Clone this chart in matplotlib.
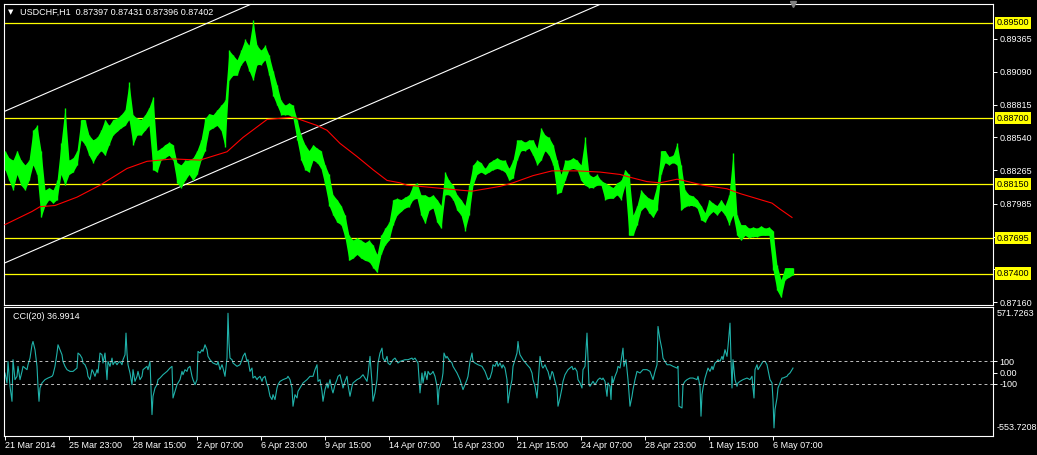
import numpy as np
import matplotlib
matplotlib.use("Agg")
import matplotlib.pyplot as plt
from matplotlib.transforms import blended_transform_factory

plt.rcParams['font.family'] = ['Liberation Sans', 'DejaVu Sans']

# ---------------- data ----------------
symbol_title = "USDCHF,H1  0.87397 0.87431 0.87396 0.87402"
bar_step = 4  # one sample every 4 hourly bars

high = [0.8843, 0.8837, 0.8835, 0.8843, 0.8835, 0.8831, 0.8835, 0.8860, 0.8864, 0.8843,
        0.8810, 0.8812, 0.8810, 0.8818, 0.8849, 0.8879, 0.8835, 0.8837, 0.8843, 0.8869,
        0.8869, 0.8856, 0.8852, 0.8854, 0.8860, 0.8869, 0.8864, 0.8869, 0.8870, 0.8873,
        0.8877, 0.8900, 0.8873, 0.8870, 0.8869, 0.8873, 0.8879, 0.8888, 0.8843, 0.8845,
        0.8848, 0.8850, 0.8848, 0.8833, 0.8831, 0.8835, 0.8835, 0.8837, 0.8843, 0.8852,
        0.8870, 0.8874, 0.8873, 0.8877, 0.8881, 0.8885, 0.8927, 0.8923, 0.8919, 0.8927,
        0.8936, 0.8931, 0.8952, 0.8931, 0.8927, 0.8931, 0.8923, 0.8910, 0.8898, 0.8885,
        0.8881, 0.8883, 0.8881, 0.8869, 0.8856, 0.8848, 0.8843, 0.8848, 0.8845, 0.8843,
        0.8831, 0.8823, 0.8806, 0.8802, 0.8797, 0.8789, 0.8772, 0.8768, 0.8770, 0.8768,
        0.8766, 0.8768, 0.8764, 0.8756, 0.8772, 0.8778, 0.8783, 0.8802, 0.8803, 0.8802,
        0.8804, 0.8806, 0.8814, 0.8816, 0.8806, 0.8806, 0.8804, 0.8806, 0.8802, 0.8797,
        0.8825, 0.8818, 0.8814, 0.8806, 0.8802, 0.8797, 0.8814, 0.8831, 0.8835, 0.8833,
        0.8828, 0.8833, 0.8835, 0.8837, 0.8835, 0.8835, 0.8828, 0.8835, 0.8852, 0.8852,
        0.8850, 0.8852, 0.8852, 0.8845, 0.8862, 0.8856, 0.8854, 0.8848, 0.8835, 0.8823,
        0.8835, 0.8835, 0.8837, 0.8835, 0.8831, 0.8854, 0.8823, 0.8821, 0.8823, 0.8818,
        0.8816, 0.8814, 0.8812, 0.8816, 0.8818, 0.8827, 0.8823, 0.8789, 0.8797, 0.8810,
        0.8806, 0.8803, 0.8802, 0.8814, 0.8843, 0.8843, 0.8838, 0.8839, 0.8849, 0.8831,
        0.8810, 0.8806, 0.8805, 0.8802, 0.8797, 0.8791, 0.8802, 0.8799, 0.8797, 0.8802,
        0.8797, 0.8806, 0.8841, 0.8789, 0.8781, 0.8781, 0.8778, 0.8779, 0.8778, 0.8780,
        0.8778, 0.8779, 0.8776, 0.8747, 0.8735, 0.8745, 0.8745, 0.8745]

low = [0.8827, 0.8818, 0.8810, 0.8823, 0.8814, 0.8810, 0.8818, 0.8831, 0.8823, 0.8787,
       0.8797, 0.8802, 0.8799, 0.8802, 0.8823, 0.8814, 0.8823, 0.8825, 0.8831, 0.8852,
       0.8848, 0.8839, 0.8833, 0.8839, 0.8843, 0.8839, 0.8848, 0.8856, 0.8859, 0.8862,
       0.8864, 0.8869, 0.8848, 0.8856, 0.8856, 0.8860, 0.8864, 0.8827, 0.8825, 0.8835,
       0.8837, 0.8839, 0.8835, 0.8816, 0.8812, 0.8818, 0.8823, 0.8818, 0.8823, 0.8835,
       0.8843, 0.8860, 0.8862, 0.8864, 0.8860, 0.8846, 0.8902, 0.8906, 0.8906, 0.8915,
       0.8919, 0.8910, 0.8902, 0.8915, 0.8915, 0.8919, 0.8906, 0.8889, 0.8881, 0.8873,
       0.8873, 0.8873, 0.8870, 0.8852, 0.8835, 0.8827, 0.8825, 0.8835, 0.8833, 0.8828,
       0.8814, 0.8797, 0.8789, 0.8783, 0.8781, 0.8770, 0.8751, 0.8753, 0.8756, 0.8753,
       0.8751, 0.8750, 0.8745, 0.8741, 0.8756, 0.8764, 0.8768, 0.8781, 0.8789, 0.8792,
       0.8795, 0.8796, 0.8802, 0.8803, 0.8789, 0.8782, 0.8793, 0.8795, 0.8783, 0.8778,
       0.8806, 0.8806, 0.8802, 0.8793, 0.8789, 0.8776, 0.8789, 0.8814, 0.8823, 0.8825,
       0.8823, 0.8825, 0.8827, 0.8828, 0.8827, 0.8825, 0.8818, 0.8820, 0.8835, 0.8843,
       0.8843, 0.8845, 0.8839, 0.8831, 0.8835, 0.8843, 0.8839, 0.8831, 0.8807, 0.8808,
       0.8818, 0.8827, 0.8828, 0.8827, 0.8818, 0.8814, 0.8812, 0.8812, 0.8814, 0.8814,
       0.8802, 0.8803, 0.8803, 0.8806, 0.8802, 0.8814, 0.8772, 0.8772, 0.8781, 0.8793,
       0.8796, 0.8791, 0.8787, 0.8793, 0.8823, 0.8833, 0.8831, 0.8833, 0.8831, 0.8793,
       0.8796, 0.8797, 0.8797, 0.8795, 0.8785, 0.8783, 0.8789, 0.8792, 0.8789, 0.8793,
       0.8789, 0.8781, 0.8789, 0.8772, 0.8768, 0.8772, 0.8770, 0.8771, 0.8771, 0.8772,
       0.8772, 0.8772, 0.8743, 0.8726, 0.8720, 0.8735, 0.8737, 0.8739]

ma_bar = [0, 27, 35, 50, 72, 95, 122, 142, 168, 195, 222, 238, 262, 275, 288, 312, 322,
          335, 352, 368, 382, 395, 402, 428, 453, 467, 495, 508, 528, 547, 572, 595, 615,
          628, 642, 655, 672, 678, 698, 722, 735, 755, 767, 775, 787]
ma_value = [0.8781, 0.8792, 0.8796, 0.8797, 0.8804, 0.8814, 0.8828, 0.8834, 0.8836, 0.8835,
            0.8842, 0.8854, 0.8869, 0.8870, 0.8871, 0.8864, 0.8860, 0.8849, 0.8838, 0.8827,
            0.8818, 0.8816, 0.8814, 0.8812, 0.8810, 0.8809, 0.8813, 0.8816, 0.8822, 0.8826,
            0.8826, 0.8825, 0.8823, 0.8820, 0.8817, 0.8816, 0.8819, 0.8818, 0.8814, 0.8811,
            0.8807, 0.8802, 0.8799, 0.8794, 0.8787]

level_prices = [0.89500, 0.88700, 0.88150, 0.87695, 0.87400]
price_ticks = [0.89365, 0.89090, 0.88815, 0.88540, 0.88265, 0.87985, 0.87710, 0.87435, 0.87160]
hidden_ticks = [0.87710, 0.87435]  # covered by the level boxes in the terminal

# trend channel anchors (bar, price)
trend_lower = [(0, 0.8749), (583, 0.8961)]
trend_upper = [(0, 0.8876), (250, 0.8967)]

cci_bar = [0, 2, 3, 5, 7, 8, 10, 12, 13, 15,
           17, 18, 20, 22, 23, 25, 27, 28, 30, 32,
           33, 34, 35, 37, 40, 43, 47, 48, 50, 52,
           53, 55, 57, 58, 60, 62, 65, 68, 72, 73,
           75, 77, 78, 80, 82, 83, 85, 87, 88, 90,
           92, 93, 95, 97, 98, 100, 102, 103, 105, 107,
           108, 110, 112, 113, 115, 117, 118, 120, 121, 122,
           123, 125, 127, 128, 130, 132, 133, 135, 137, 138,
           140, 142, 143, 145, 146, 147, 148, 150, 152, 153,
           155, 158, 162, 165, 167, 168, 170, 172, 175, 177,
           178, 180, 182, 183, 185, 187, 188, 190, 192, 193,
           195, 197, 198, 200, 202, 203, 205, 208, 212, 213,
           215, 217, 218, 220, 222, 223, 224, 225, 227, 228,
           230, 232, 235, 237, 238, 240, 242, 243, 245, 247,
           248, 250, 252, 253, 255, 257, 258, 260, 262, 263,
           265, 267, 268, 270, 272, 273, 275, 278, 282, 283,
           285, 287, 288, 290, 292, 293, 295, 298, 302, 305,
           308, 310, 312, 313, 315, 317, 318, 320, 322, 323,
           325, 327, 328, 330, 332, 333, 335, 337, 338, 340,
           342, 343, 345, 347, 348, 352, 355, 358, 362, 363,
           365, 367, 368, 370, 372, 373, 375, 377, 378, 380,
           382, 383, 385, 387, 388, 390, 392, 393, 395, 400,
           403, 407, 408, 410, 412, 413, 415, 417, 418, 420,
           422, 423, 425, 427, 428, 430, 432, 433, 434, 436,
           437, 438, 439, 441, 442, 444, 447, 448, 452, 455,
           458, 460, 462, 463, 465, 467, 468, 470, 473, 477,
           480, 483, 485, 487, 488, 490, 492, 493, 495, 497,
           498, 500, 502, 503, 505, 507, 508, 510, 512, 513,
           514, 515, 518, 522, 525, 527, 528, 530, 532, 533,
           535, 537, 538, 540, 542, 543, 545, 547, 548, 550,
           552, 553, 555, 557, 558, 560, 562, 563, 565, 567,
           568, 570, 572, 573, 575, 577, 578, 580, 582, 583,
           584, 585, 587, 588, 590, 592, 593, 595, 597, 598,
           600, 602, 603, 605, 606, 607, 608, 610, 612, 613,
           615, 617, 618, 619, 621, 622, 623, 625, 627, 628,
           630, 632, 635, 638, 642, 645, 648, 650, 652, 653,
           655, 657, 658, 660, 662, 665, 668, 672, 673, 674,
           677, 678, 680, 682, 685, 688, 692, 693, 695, 696,
           697, 698, 700, 702, 703, 705, 707, 708, 710, 712,
           713, 715, 717, 718, 720, 722, 723, 725, 726, 727,
           728, 730, 732, 733, 735, 738, 742, 745, 747, 748,
           749, 750, 752, 753, 755, 757, 758, 760, 762, 763,
           765, 767, 768, 769, 770, 772, 773, 775, 777, 778,
           782, 783, 785, 787, 788]
cci_value = [-4, -91, 97, -120, -251, 112, -62, -33, 54, -62,
             10, 54, 39, 25, 68, 126, 242, 271, 199, 54,
             -120, -251, -135, -91, -62, -48, -33, -19, 54, 170,
             242, 199, 155, 97, 54, 25, 10, 10, 39, 170,
             155, 126, 83, 68, 25, -33, -62, 25, 10, -33,
             25, -4, 170, 155, 83, 170, -62, 97, 54, 126,
             68, 97, 68, 83, 97, 68, 112, 155, 344, 170,
             68, -4, -106, 25, -77, -33, 10, -62, -33, 25,
             39, 54, 25, 97, -135, -367, -207, -135, -106, -62,
             -48, -19, 10, 39, 54, -222, -164, -106, -62, 10,
             -19, 25, 10, 39, 54, -33, -62, -106, -62, 184,
             170, 199, 184, 242, 199, 141, 112, 83, 68, 97,
             25, 68, 39, -33, 126, 517, 257, 126, 112, 83,
             68, 54, 68, 112, 141, 170, 97, 112, 10, 39,
             -48, -33, -62, -48, -33, -77, -48, -33, -106, -120,
             -207, -236, -193, -236, -135, -106, -77, -62, -48, -33,
             -62, -135, -294, -193, -222, -164, -135, -91, -62, -33,
             -33, 25, 68, -77, -62, -164, -251, -149, -91, -135,
             -62, -149, -178, -106, -62, -33, -19, -91, -135, -77,
             -33, -106, -207, -120, -91, -62, -48, -19, -77, -19,
             141, -91, -251, -178, -62, 83, 170, 213, 126, 97,
             141, 83, 68, 97, 112, 126, 97, 83, 97, 112,
             112, 126, 112, 126, 97, 83, -178, -4, -91, 10,
             -62, 10, -19, -4, 10, -33, -120, -280, -149, -91,
             -62, -4, 170, 126, 141, 112, 83, 54, -4, -62,
             -149, -106, -62, -33, 97, 170, 97, 83, 68, 54,
             10, -62, -48, 10, 68, 54, 97, 54, 83, 39,
             68, 39, -62, -265, -149, -62, 54, 112, 170, 271,
             199, 155, 112, 68, 39, -4, -62, -120, -222, -106,
             141, 54, 39, 68, 25, 10, -62, 10, -4, -77,
             -135, -294, -222, -135, -77, -19, 10, 25, 39, 54,
             25, 39, 10, -62, -91, -135, 25, 54, 344, 112,
             -106, -120, -91, -77, -106, -77, -62, -48, -62, -48,
             -77, -207, -91, -120, -236, -33, -91, -33, 10, 54,
             39, 155, 213, 54, 112, 25, -62, -294, -207, -149,
             -62, 10, -4, 25, 25, 10, -62, 10, 68, 402,
             286, 199, 126, 97, 68, 68, 54, 39, 54, -294,
             -309, -106, -77, -62, -48, -48, -62, -33, -120, -381,
             -193, -135, -48, 10, 39, 10, 54, 25, 83, 97,
             112, 97, 141, 112, 199, 141, 228, 431, 112, -135,
             112, -62, -120, -91, -77, -62, -48, -62, -33, -135,
             -222, 25, 68, 25, 54, 83, 97, 97, 68, 25,
             -62, -91, -236, -483, -323, -222, -135, -91, -48, -48,
             -33, -19, -4, 25, 39]
cci_levels = [100, -100]
cci_max, cci_min = 571.7263, -553.7208
cci_title = "CCI(20) 36.9914"

time_tick_bars = [0, 64, 128, 192, 256, 320, 384, 448, 512, 576, 640, 704, 768]
time_tick_labels = ["21 Mar 2014", "25 Mar 23:00", "28 Mar 15:00", "2 Apr 07:00",
                    "6 Apr 23:00", "9 Apr 15:00", "14 Apr 07:00", "16 Apr 23:00",
                    "21 Apr 15:00", "24 Apr 07:00", "28 Apr 23:00", "1 May 15:00",
                    "6 May 07:00"]

# ---------------- figure ----------------
W, H = 1037, 455
fig = plt.figure(figsize=(W / 100, H / 100), dpi=100, facecolor='black')

GREEN = '#00ff00'
YELLOW = '#ffff00'
FS = 6.5

def fig_rect(x0, y0, x1, y1):
    return [x0 / W, 1 - y1 / H, (x1 - x0) / W, (y1 - y0) / H]

ax = fig.add_axes(fig_rect(4, 4, 993, 305))
cax = fig.add_axes(fig_rect(4, 307, 993, 436), sharex=ax)

for a in (ax, cax):
    a.set_facecolor('black')
    for s in a.spines.values():
        s.set_color('white')
        s.set_linewidth(0.8)

ax.set_xlim(-1, 988)
ax.set_ylim(0.87137, 0.89657)

# price bars
x = np.arange(len(high)) * bar_step
ax.fill_between(x, low, high, color=GREEN, lw=0, zorder=3)
ax.vlines(x, low, high, color=GREEN, lw=1.0, zorder=3)

# moving average
ax.plot(ma_bar, ma_value, color='#ff0000', lw=0.8, zorder=4)

# horizontal levels
for p in level_prices:
    ax.axhline(p, color=YELLOW, lw=0.9, zorder=2)

# trend channel
for (p1, p2) in (trend_lower, trend_upper):
    ax.axline(p1, p2, color='white', lw=0.8, zorder=2)

# price scale
ax.yaxis.tick_right()
ax.set_yticks(price_ticks)
ax.set_yticklabels(["" if v in hidden_ticks else f"{v:.5f}" for v in price_ticks])
ax.tick_params(axis='y', colors='white', labelsize=FS, length=3, width=0.7, pad=1.5,
               direction='out')
ax.tick_params(axis='x', bottom=False, labelbottom=False)

tr = blended_transform_factory(ax.transAxes, ax.transData)
for p in level_prices:
    ax.text(1.0035, p, f"{p:.5f}", transform=tr, ha='left', va='center', color='black',
            fontsize=FS, zorder=20, clip_on=False,
            bbox=dict(boxstyle='square,pad=0.18', fc=YELLOW, ec='none'))

# chart shift marker
ax.plot([len(high) * bar_step - bar_step], [0.89657], marker='v', color='#808080', ms=5,
        clip_on=False, zorder=10)

# header
fig.text(8 / W, 1 - 12 / H, '\u25BC', color='white', fontsize=5, va='center',
         family=['DejaVu Sans'])
fig.text(20 / W, 1 - 12 / H, symbol_title, color='white', fontsize=FS, va='center')

# CCI panel
cax.set_ylim(cci_min, cci_max)
cax.plot(cci_bar, cci_value, color='#20b2aa', lw=0.8)
for lv in cci_levels:
    cax.axhline(lv, color='#bfbfbf', lw=0.7, ls=(0, (3, 3)))
cax.yaxis.tick_right()
cax.set_yticks([100, 0, -100])
cax.set_yticklabels(["100", "0.00", "-100"])
cax.tick_params(axis='y', colors='white', labelsize=FS, length=3, width=0.7, pad=1.5)
ctr = blended_transform_factory(cax.transAxes, cax.transData)
cax.annotate(f"{cci_max:.4f}", xy=(1, cci_max), xycoords=ctr, xytext=(4, -6),
             textcoords='offset pixels', color='white', fontsize=FS, va='center',
             annotation_clip=False)
cax.annotate(f"{cci_min:.4f}", xy=(1, cci_min), xycoords=ctr, xytext=(4, 8),
             textcoords='offset pixels', color='white', fontsize=FS, va='center',
             annotation_clip=False)
cax.text(9 / 989, 0.93, cci_title, transform=cax.transAxes, color='white', fontsize=FS,
         va='center', ha='left')

cax.set_xticks(time_tick_bars)
cax.set_xticklabels(time_tick_labels, ha='left')
cax.tick_params(axis='x', colors='white', labelsize=FS, length=3, width=0.7, pad=0.5)
cax.set_xlim(-1, 988)

fig.savefig('out.png', dpi=100, facecolor='black')
